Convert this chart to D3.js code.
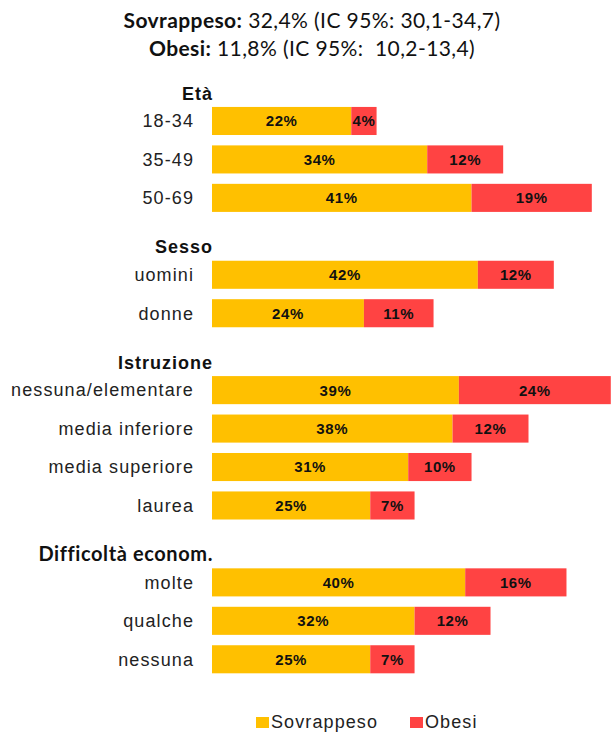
<!doctype html>
<html lang="it">

<head>
	<meta charset="UTF-8">
	<title>Sovrappeso e obesi</title>
	<script src="https://d3js.org/d3.v7.min.js"></script>
	<style>
		body { margin: 0; background: #fff; }
		svg { display: block; }
	</style>
</head>

<body>
	<div id="svgcontainer"></div>

	<script>
		// groups and rows
		var groups = ['Età', 'Sesso', 'Istruzione', 'Difficoltà econom.']
		var categories = [
			['18-34', '35-49', '50-69'],
			['uomini', 'donne'],
			['nessuna/elementare', 'media inferiore', 'media superiore', 'laurea'],
			['molte', 'qualche', 'nessuna']
		]
		var sovrappeso = [
			[22, 34, 41],
			[42, 24],
			[39, 38, 31, 25],
			[40, 32, 25]
		]
		var obesi = [
			[4, 12, 19],
			[12, 11],
			[24, 12, 10, 7],
			[16, 12, 7]
		]
		var series = ['Sovrappeso', 'Obesi']
		var colors = ['#FFC000', '#FF4343']

		var w = 614
		var h = 733

		var svg = d3.select('#svgcontainer')
			.append('svg')
			.attr('width', w)
			.attr('height', h)

		// flatten into slots: one slot for each header, one for each bar
		var slots = []
		for (var g = 0; g < groups.length; g++) {
			slots.push({ key: 'h' + g, type: 'header', label: groups[g], group: g })
			for (var i = 0; i < categories[g].length; i++) {
				slots.push({
					key: 'r' + g + '_' + i, type: 'row', label: categories[g][i],
					values: [sovrappeso[g][i], obesi[g][i]]
				})
			}
		}

		var y = d3.scaleBand()
			.domain(slots.map(d => d.key))
			.range([63.3, 63.3 + slots.length * 38.45])
			.paddingInner(0.27)
			.paddingOuter(0.135)

		var x = d3.scaleLinear()
			.domain([0, 100])
			.range([212, 845])

		/* ---------------------------------- Title --------------------------------- */
		var titles = [
			['Sovrappeso:', ' 32,4% (IC 95%: 30,1-34,7)'],
			['Obesi:', ' 11,8% (IC 95%:  10,2-13,4)']
		]
		titles.forEach(function (t, i) {
			var txt = svg.append('text')
				.attr('x', 312)
				.attr('y', 28 + i * 28)
				.attr('text-anchor', 'middle')
				.style('font-family', 'Lato, "Open Sans", sans-serif')
				.style('font-size', '21px')
				.style('letter-spacing', '0.4px')
				.style('fill', '#111')
				.style('white-space', 'pre')
			txt.append('tspan').style('font-weight', 'bold').text(t[0])
			txt.append('tspan').text(t[1])
		})

		/* --------------------------------- Headers -------------------------------- */
		var headers = slots.filter(d => d.type == 'header')
		svg.selectAll('.header')
			.data(headers)
			.join('text')
			.attr('class', 'header')
			.attr('x', 213)
			.attr('y', d => y(d.key) + y.bandwidth() / 2 + 17)
			.attr('text-anchor', 'end')
			.style('font-family', d => d.group == 3 ? 'Lato, sans-serif' : '"Liberation Sans", Arial, sans-serif')
			.style('font-size', d => d.group == 3 ? '20px' : '18px')
			.style('letter-spacing', d => d.group == 3 ? '0.6px' : '1px')
			.style('font-weight', 'bold')
			.style('fill', '#111')
			.text(d => d.label)

		/* ---------------------------------- Rows ---------------------------------- */
		var rows = slots.filter(d => d.type == 'row')

		svg.selectAll('.cat')
			.data(rows)
			.join('text')
			.attr('class', 'cat')
			.attr('x', 194)
			.attr('y', d => y(d.key) + y.bandwidth() / 2)
			.attr('dy', '0.35em')
			.attr('text-anchor', 'end')
			.style('font-family', '"Liberation Sans", Arial, sans-serif')
			.style('font-size', '18px')
			.style('letter-spacing', '1.1px')
			.style('fill', '#222')
			.text(d => d.label)

		// stacked segments
		var segs = []
		rows.forEach(function (r) {
			var start = 0
			r.values.forEach(function (v, s) {
				segs.push({ key: r.key, s: s, x0: start, x1: start + v, v: v })
				start += v
			})
		})

		svg.selectAll('.seg')
			.data(segs)
			.join('rect')
			.attr('class', 'seg')
			.attr('x', d => x(d.x0))
			.attr('y', d => y(d.key))
			.attr('width', d => x(d.x1) - x(d.x0))
			.attr('height', y.bandwidth())
			.attr('fill', d => colors[d.s])

		svg.selectAll('.val')
			.data(segs)
			.join('text')
			.attr('class', 'val')
			.attr('x', d => (x(d.x0) + x(d.x1)) / 2)
			.attr('y', d => y(d.key) + y.bandwidth() / 2)
			.attr('dy', '0.36em')
			.attr('text-anchor', 'middle')
			.style('font-family', '"Liberation Sans", Arial, sans-serif')
			.style('font-size', '15px')
			.style('font-weight', 'bold')
			.style('letter-spacing', '0.6px')
			.style('fill', '#111')
			.text(d => d.v + '%')

		/* --------------------------------- Legend --------------------------------- */
		var legendX = [256, 410]
		series.forEach(function (name, i) {
			svg.append('rect')
				.attr('x', legendX[i])
				.attr('y', 717)
				.attr('width', 13)
				.attr('height', 11)
				.attr('fill', colors[i])
			svg.append('text')
				.attr('x', legendX[i] + 15)
				.attr('y', 728)
				.style('font-family', '"Liberation Sans", Arial, sans-serif')
				.style('font-size', '18px')
				.style('letter-spacing', '1.1px')
				.style('fill', '#222')
				.text(name)
		})
	</script>
</body>

</html>
